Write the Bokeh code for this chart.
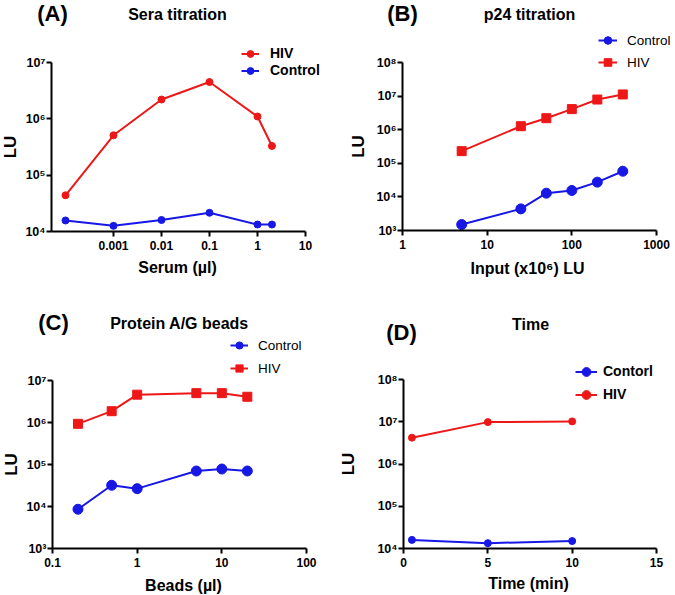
import math
from bokeh.plotting import figure
from bokeh.models import Range1d, FixedTicker, Legend, LegendItem, Label
from bokeh.layouts import row, column
from bokeh.embed import file_html
from bokeh.resources import INLINE

# ---------------- data ----------------
A_x = [0.0001, 0.001, 0.01, 0.1, 1, 2]
A_hiv = [4.4e4, 5.1e5, 2.2e6, 4.5e6, 1.1e6, 3.3e5]
A_ctrl = [1.57e4, 1.26e4, 1.6e4, 2.15e4, 1.33e4, 1.33e4]

B_x = [5, 25, 50, 100, 200, 400]
B_ctrl = [1.5e3, 4.4e3, 1.29e4, 1.55e4, 2.75e4, 5.8e4]
B_hiv = [2.3e5, 1.27e6, 2.2e6, 4.1e6, 7.9e6, 1.12e7]

C_x = [0.2, 0.5, 1, 5, 10, 20]
C_ctrl = [8.6e3, 3.2e4, 2.66e4, 7.0e4, 7.8e4, 7.0e4]
C_hiv = [9.3e5, 1.86e6, 4.6e6, 5.0e6, 5.0e6, 4.1e6]

D_x = [0.5, 5, 10]
D_ctrl = [1.6e4, 1.34e4, 1.5e4]
D_hiv = [4.2e6, 9.8e6, 1.02e7]

A_xticks = [0.001, 0.01, 0.1, 1, 10]
A_xlabels = ["0.001", "0.01", "0.1", "1", "10"]
B_xticks = [1, 10, 100, 1000]
B_xlabels = ["1", "10", "100", "1000"]
C_xticks = [0.1, 1, 10, 100]
C_xlabels = ["0.1", "1", "10", "100"]
D_xticks = [0, 5, 10, 15]
D_xlabels = ["0", "5", "10", "15"]

SUP = {3: "\u00b3", 4: "\u2074", 5: "\u2075", 6: "\u2076", 7: "\u2077", 8: "\u2078"}

RED = "#ee1717"
BLUE = "#1717e6"
FONT = "Liberation Sans"


def no_align(p):
    try:
        p.frame_align = False
    except Exception:
        pass


def log_span(lo, hi, p_lo, p_hi, f0, f1):
    k = (p_hi - p_lo) / (math.log10(hi) - math.log10(lo))
    a = math.log10(lo) + (f0 - p_lo) / k
    b = math.log10(lo) + (f1 - p_lo) / k
    return 10 ** a, 10 ** b


def blank(W, H):
    h = figure(width=W, height=H, x_range=Range1d(0, W), y_range=Range1d(0, H),
               output_backend="svg", toolbar_location=None, min_border=0,
               x_axis_location=None, y_axis_location=None)
    h.grid.visible = False
    h.outline_line_color = None
    h.background_fill_color = "white"
    h.border_fill_color = "white"
    no_align(h)
    return h


def add_text(p, x, y, text, size, style="bold", angle=0.0):
    p.add_layout(Label(x=x, y=y, x_units="screen", y_units="screen", text=text,
                       text_font=FONT, text_font_style=style, text_font_size=size,
                       text_align="center", text_baseline="middle", angle=angle,
                       text_color="black"))


def plot_fig(W, H, left, bottom, xtype, xr, xbounds, yr, ybounds,
             xticks, xlabels, ylo, yhi):
    p = figure(width=W, height=H, x_axis_type=xtype, y_axis_type="log",
               x_range=Range1d(*xr), y_range=Range1d(*yr),
               output_backend="svg", toolbar_location=None,
               min_border_left=left, min_border_right=0,
               min_border_top=0, min_border_bottom=bottom)
    no_align(p)
    p.grid.visible = False
    p.outline_line_color = None
    p.background_fill_color = "white"
    p.border_fill_color = "white"
    p.xaxis.ticker = FixedTicker(ticks=xticks, minor_ticks=[])
    p.xaxis.major_label_overrides = {float(k): v for k, v in zip(xticks, xlabels)}
    p.xaxis.bounds = xbounds
    yt = [10.0 ** e for e in range(ylo, yhi + 1)]
    p.yaxis.ticker = FixedTicker(ticks=yt, minor_ticks=[])
    p.yaxis.major_label_overrides = {10.0 ** e: "10" + SUP[e] for e in range(ylo, yhi + 1)}
    p.yaxis.bounds = ybounds
    for ax in (p.xaxis[0], p.yaxis[0]):
        ax.axis_line_width = 2
        ax.axis_line_color = "black"
        ax.major_tick_line_width = 2
        ax.major_tick_in = 0
        ax.major_tick_out = 5
        ax.minor_tick_out = 0
        ax.minor_tick_in = 0
        ax.major_label_text_font = FONT
        ax.major_label_text_font_style = "bold"
        ax.major_label_text_font_size = "12px"
        ax.major_label_text_color = "black"
    p.yaxis.major_label_text_font_size = "12.5px"
    p.yaxis.major_label_standoff = 1
    p.xaxis.major_label_standoff = 4
    return p


def series(p, x, y, color, marker, size):
    l = p.line(x, y, line_color=color, line_width=2)
    s = p.scatter(x, y, marker=marker, size=size, fill_color=color, line_color=color)
    return [l, s]


def legend(p, entries, loc, gw, gh, standoff, spacing, style, fsize):
    items = [LegendItem(label=lab, renderers=r) for lab, r in entries]
    lg = Legend(items=items, location=loc, orientation="vertical",
                glyph_width=gw, glyph_height=gh, label_height=gh,
                label_standoff=standoff, spacing=spacing, padding=0, margin=0,
                border_line_color=None, background_fill_alpha=0,
                label_text_font=FONT, label_text_font_size=fsize,
                label_text_font_style=style, label_text_color="black")
    p.add_layout(lg)


# ---------- (A) ----------  page x 0..337, y 0..288
hA = blank(337, 28)
add_text(hA, 52, 28 - 13, "(A)", "22px")
add_text(hA, 177, 28 - 14, "Sera titration", "16px")
sA = blank(20, 229)
add_text(sA, 10, 257 - 146.5, "LU", "17px", angle=math.pi / 2)
xrA = log_span(0.001, 10, 113, 305, 51, 337)
yrA = log_span(1e4, 1e7, -231, -62, -231, -28)
pA = plot_fig(317, 229, 31, 26, "log", xrA, (xrA[0], 10), yrA, (1e4, 1e7),
              A_xticks, A_xlabels, 4, 7)
rA_h = series(pA, A_x, A_hiv, RED, "circle", 7)
rA_c = series(pA, A_x, A_ctrl, BLUE, "circle", 7)
legend(pA, [("HIV", rA_h), ("Control", rA_c)], (241 - 51, 231 - 78.5), 18, 17, 11, 0, "bold", "14px")
lA = blank(337, 31)
add_text(lA, 177, 288 - 267, "Serum (\u00b5l)", "16px")

# ---------- (B) ----------  page x 337..675, y 0..288
hB = blank(338, 28)
add_text(hB, 402 - 337, 28 - 13, "(B)", "22px")
add_text(hB, 529 - 337, 28 - 14, "p24 titration", "16px")
sB = blank(35, 228)
add_text(sB, 358 - 337, 256 - 146, "LU", "17px", angle=math.pi / 2)
xrB = log_span(1, 1000, 402, 656, 402, 675)
yrB = log_span(1e3, 1e8, -230, -62, -230, -28)
pB = plot_fig(303, 228, 30, 26, "log", xrB, (1, 1000), yrB, (1e3, 1e8),
              B_xticks, B_xlabels, 3, 8)
rB_c = series(pB, B_x, B_ctrl, BLUE, "circle", 10)
rB_h = series(pB, B_x, B_hiv, RED, "square", 9)
legend(pB, [("Control", rB_c), ("HIV", rB_h)], (598 - 402, 230 - 73), 19, 22, 10, 0, "normal", "13.5px")
lB = blank(338, 32)
add_text(lB, 527 - 337, 288 - 268, "Input (x10\u2076) LU", "16px")

# ---------- (C) ----------  page x 0..337, y 288..595
hC = blank(337, 47)
add_text(hC, 53, 335 - 322, "(C)", "22px")
add_text(hC, 179, 335 - 323, "Protein A/G beads", "16px")
sC = blank(22, 239)
add_text(sC, 11, 574 - 464, "LU", "17px", angle=math.pi / 2)
xrC = log_span(0.1, 100, 52, 306, 52, 337)
yrC = log_span(1e3, 1e7, -548, -380, -548, -335)
pC = plot_fig(315, 239, 30, 26, "log", xrC, (0.1, 100), yrC, (1e3, 1e7),
              C_xticks, C_xlabels, 3, 7)
rC_c = series(pC, C_x, C_ctrl, BLUE, "circle", 10)
rC_h = series(pC, C_x, C_hiv, RED, "square", 9)
legend(pC, [("Control", rC_c), ("HIV", rC_h)], (230 - 52, 548 - 378), 18, 20, 10, 3, "normal", "13.5px")
lC = blank(337, 21)
add_text(lC, 183, 595 - 585, "Beads (\u00b5l)", "16px")

# ---------- (D) ----------  page x 337..675, y 288..595
hD = blank(338, 62)
add_text(hD, 401 - 337, 350 - 332, "(D)", "22px")
add_text(hD, 530 - 337, 350 - 324, "Time", "16px")
sD = blank(33, 224)
add_text(sD, 348 - 337, 574 - 463.5, "LU", "17px", angle=math.pi / 2)
kD = (656 - 403) / 15.0
xrD = (0, 15 + (675 - 656) / kD)
yrD = log_span(1e4, 1e8, -548, -379, -548, -350)
pD = plot_fig(305, 224, 33, 26, "linear", xrD, (0, 15), yrD, (1e4, 1e8),
              D_xticks, D_xlabels, 4, 8)
rD_c = series(pD, D_x, D_ctrl, BLUE, "circle", 7)
rD_h = series(pD, D_x, D_hiv, RED, "circle", 7)
legend(pD, [("Contorl", rD_c), ("HIV", rD_h)], (575 - 403, 548 - 405.5), 22, 23, 6, 0, "bold", "14px")
lD = blank(338, 21)
add_text(lD, 528 - 337, 595 - 583, "Time (min)", "16px")

layout = column(
    row(column(hA, row(sA, pA), lA), column(hB, row(sB, pB), lB)),
    row(column(hC, row(sC, pC), lC), column(hD, row(sD, pD), lD)),
)

open("out.html", "w").write(file_html(layout, INLINE))
